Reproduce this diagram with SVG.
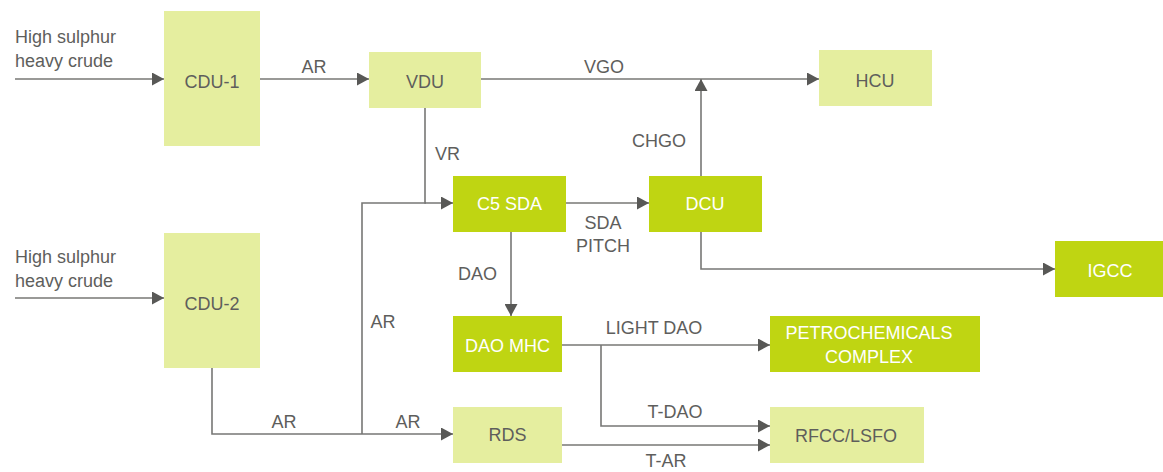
<svg xmlns="http://www.w3.org/2000/svg" width="1163" height="472" viewBox="0 0 1163 472">
<style>
  text { font-family: "Liberation Sans", Arial, sans-serif; font-size: 18px; }
  .light { fill: #e5ee9f; }
  .dark { fill: #bfd512; }
  .t-dark { fill: #5e5e5c; }
  .t-white { fill: #ffffff; }
  .lbl { fill: #5e5e5c; }
  .conn path { fill: none; stroke: #777775; stroke-width: 1.6; }
  .arr { marker-end: url(#ah); }
</style>
<defs>
  <marker id="ah" viewBox="0 0 12 13" refX="12" refY="6.5" markerWidth="12" markerHeight="13" markerUnits="userSpaceOnUse" orient="auto">
    <path d="M0,0 L12,6.5 L0,13 Z" fill="#585856"/>
  </marker>
</defs>
<rect width="1163" height="472" fill="#ffffff"/>

<g id="connectors" class="conn">
  <path class="arr" d="M15,79 H164"/>
  <path class="arr" d="M260,79 H369"/>
  <path class="arr" d="M481,79 H819"/>
  <path class="arr" d="M425,107 V203 H453"/>
  <path class="arr" d="M15,298 H164"/>
  <path class="arr" d="M212,368 V434 H453"/>
  <path d="M362,434 V203 H426"/>
  <path class="arr" d="M566,203 H649"/>
  <path class="arr" d="M701,176 V79"/>
  <path class="arr" d="M701,232 V269 H1055"/>
  <path class="arr" d="M511,232 V316"/>
  <path class="arr" d="M562,345 H770"/>
  <path class="arr" d="M601,345 V426 H770"/>
  <path class="arr" d="M562,445 H770"/>
</g>

<g id="labels">
  <text class="lbl" x="15" y="43">High sulphur</text>
  <text class="lbl" x="15" y="67">heavy crude</text>
  <text class="lbl" x="15" y="263">High sulphur</text>
  <text class="lbl" x="15" y="287">heavy crude</text>
  <text class="lbl" x="314" y="73" text-anchor="middle">AR</text>
  <text class="lbl" x="604" y="73" text-anchor="middle">VGO</text>
  <text class="lbl" x="435" y="160">VR</text>
  <text class="lbl" x="686" y="147" text-anchor="end">CHGO</text>
  <text class="lbl" x="603" y="229" text-anchor="middle">SDA</text>
  <text class="lbl" x="603" y="252" text-anchor="middle">PITCH</text>
  <text class="lbl" x="458" y="280">DAO</text>
  <text class="lbl" x="383" y="328" text-anchor="middle">AR</text>
  <text class="lbl" x="284" y="428" text-anchor="middle">AR</text>
  <text class="lbl" x="408" y="428" text-anchor="middle">AR</text>
  <text class="lbl" x="654" y="334" text-anchor="middle">LIGHT DAO</text>
  <text class="lbl" x="675" y="418" text-anchor="middle">T-DAO</text>
  <text class="lbl" x="666" y="467" text-anchor="middle">T-AR</text>
</g>

<g id="cdu1">
  <rect class="light" x="164" y="11" width="96" height="135"/>
  <text class="t-dark" x="212" y="88" text-anchor="middle">CDU-1</text>
</g>
<g id="vdu">
  <rect class="light" x="369" y="52" width="112" height="56"/>
  <text class="t-dark" x="425" y="88" text-anchor="middle">VDU</text>
</g>
<g id="hcu">
  <rect class="light" x="819" y="50" width="113" height="56"/>
  <text class="t-dark" x="875" y="87" text-anchor="middle">HCU</text>
</g>
<g id="c5sda">
  <rect class="dark" x="453" y="176" width="113" height="56"/>
  <text class="t-white" x="509.5" y="210" text-anchor="middle">C5 SDA</text>
</g>
<g id="dcu">
  <rect class="dark" x="649" y="176" width="113" height="56"/>
  <text class="t-white" x="705" y="210" text-anchor="middle">DCU</text>
</g>
<g id="igcc">
  <rect class="dark" x="1055" y="241" width="108" height="56"/>
  <text class="t-white" x="1110" y="277" text-anchor="middle">IGCC</text>
</g>
<g id="cdu2">
  <rect class="light" x="164" y="233" width="96" height="135"/>
  <text class="t-dark" x="212" y="310" text-anchor="middle">CDU-2</text>
</g>
<g id="daomhc">
  <rect class="dark" x="453" y="316" width="109" height="56"/>
  <text class="t-white" x="507.5" y="352" text-anchor="middle">DAO MHC</text>
</g>
<g id="petrochemicals">
  <rect class="dark" x="770" y="316" width="210" height="56"/>
  <text class="t-white" x="869" y="339" text-anchor="middle">PETROCHEMICALS</text>
  <text class="t-white" x="869" y="363" text-anchor="middle">COMPLEX</text>
</g>
<g id="rds">
  <rect class="light" x="453" y="407" width="109" height="56"/>
  <text class="t-dark" x="507.5" y="441" text-anchor="middle">RDS</text>
</g>
<g id="rfcc">
  <rect class="light" x="770" y="407" width="154" height="56"/>
  <text class="t-dark" x="846" y="442" text-anchor="middle">RFCC/LSFO</text>
</g>
</svg>
